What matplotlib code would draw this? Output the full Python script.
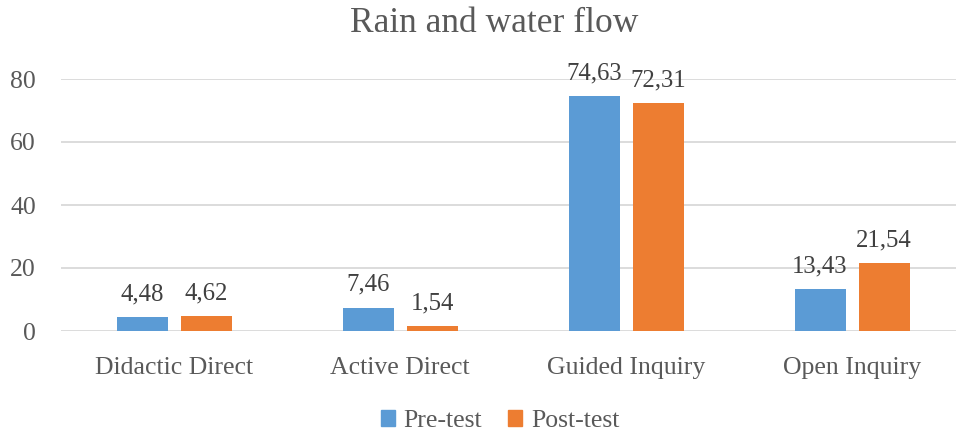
import matplotlib
matplotlib.use("Agg")
import matplotlib.pyplot as plt
import numpy as np
from matplotlib.patches import Patch

categories = ["Didactic Direct", "Active Direct", "Guided Inquiry", "Open Inquiry"]
pre_test = [4.48, 7.46, 74.63, 13.43]
post_test = [4.62, 1.54, 72.31, 21.54]
series_names = ["Pre-test", "Post-test"]
yticks = [0, 20, 40, 60, 80]

BLUE = "#5B9BD5"
ORANGE = "#ED7D31"
TXT = "#595959"
GRID = "#D9D9D9"

plt.rcParams['font.family'] = ['Liberation Serif', 'DejaVu Serif']

W, H = 956, 437
fig = plt.figure(figsize=(W / 100, H / 100), dpi=100)
left = 61 / W
bottom = (H - 331) / H
top = (H - 79) / H
ax = fig.add_axes([left, bottom, 1 - left, top - bottom])

x = np.arange(len(categories))
bw = 51 / 226
gap = 13 / 226
b1 = ax.bar(x - (bw + gap) / 2, pre_test, bw, color=BLUE, zorder=3)
b2 = ax.bar(x + (bw + gap) / 2, post_test, bw, color=ORANGE, zorder=3)

for bars, vals in ((b1, pre_test), (b2, post_test)):
    for r, v in zip(bars, vals):
        ax.annotate(f"{v:.2f}".replace(".", ","),
                    (r.get_x() + r.get_width() / 2, r.get_height()),
                    xytext=(0, 12), textcoords="offset points",
                    ha="center", va="baseline", fontsize=17.8, color="#404040")

ax.set_ylim(0, 80)
ax.set_xlim(-0.5, 3.5 - 9 / 226)
ax.set_yticks(yticks)
ax.set_yticklabels([str(t) for t in yticks])
ax.set_xticks(x)
ax.set_xticklabels(categories)
ax.tick_params(axis='y', length=0, labelsize=18.5, labelcolor=TXT, pad=18)
ax.tick_params(axis='x', length=0, labelsize=18.5, labelcolor=TXT, pad=19)
ax.yaxis.grid(True, color=GRID, linewidth=1.3, zorder=0)
ax.set_axisbelow(True)
for s in ax.spines.values():
    s.set_visible(False)

fig.text(0.5 * (350 + 638) / W, 1 - 24 / H, "Rain and water flow",
         ha="center", va="center", fontsize=25.5, color=TXT)

handles = [Patch(color=BLUE), Patch(color=ORANGE)]
fig.legend(handles, series_names, loc="center", bbox_to_anchor=(500 / W, 1 - 421 / H),
           ncol=2, frameon=False, fontsize=18.5, labelcolor=TXT,
           handlelength=0.55, handleheight=0.55, handletextpad=0.35, columnspacing=1.0)

fig.savefig("out.png", dpi=100)
